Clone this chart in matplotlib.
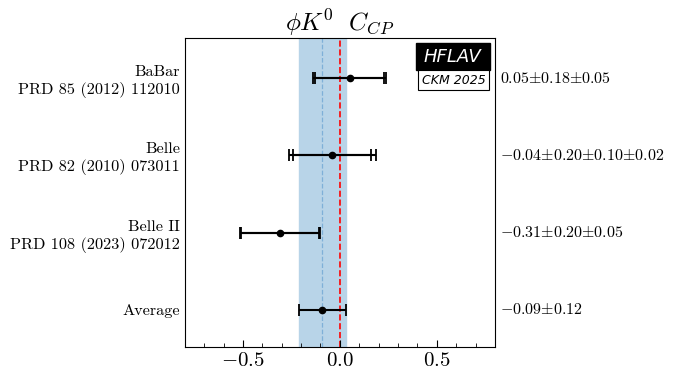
import numpy as np
import matplotlib
matplotlib.use("Agg")
import matplotlib.pyplot as plt
from matplotlib.ticker import MultipleLocator
from matplotlib.patches import Rectangle

plt.rcParams['font.family'] = 'serif'
plt.rcParams['font.serif'] = ['cmr10']
plt.rcParams['mathtext.fontset'] = 'cm'
plt.rcParams['axes.formatter.use_mathtext'] = True

# measurements, top to bottom
experiments = ["BaBar\nPRD 85 (2012) 112010",
               "Belle\nPRD 82 (2010) 073011",
               "Belle II\nPRD 108 (2023) 072012"]
values = [0.05, -0.04, -0.31]
stat_err = [0.18, 0.20, 0.20]
syst_err = [[0.05], [0.10, 0.02], [0.05]]
value_labels = [r"$0.05{\pm}0.18{\pm}0.05$",
                r"$-0.04{\pm}0.20{\pm}0.10{\pm}0.02$",
                r"$-0.31{\pm}0.20{\pm}0.05$"]

avg_value = -0.09
avg_err = 0.12
avg_label = r"$-0.09{\pm}0.12$"

fig, ax = plt.subplots(figsize=(6.77, 3.82), dpi=100)
fig.subplots_adjust(left=0.273, right=0.731, top=0.90, bottom=0.092)

n = len(experiments)
ypos = np.arange(n, 0, -1)

ax.axvspan(avg_value - avg_err, avg_value + avg_err, color="#b8d4e8", zorder=0)
ax.axvline(avg_value, color="#7fb0d8", ls="--", lw=0.9, zorder=1)
ax.axvline(0, color="red", ls="--", lw=1.2, zorder=1)

for i in range(n):
    tot = np.sqrt(stat_err[i] ** 2 + np.sum(np.square(syst_err[i])))
    ax.errorbar(values[i], ypos[i], xerr=tot, fmt="o", color="black", ms=4.5,
                lw=1.5, capsize=4.5, capthick=1.3, zorder=3)
    ax.errorbar(values[i], ypos[i], xerr=stat_err[i], fmt="none", ecolor="black",
                lw=1.5, capsize=4.5, capthick=1.3, zorder=3)
    ax.text(1.016, ypos[i], value_labels[i], transform=ax.get_yaxis_transform(),
            va="center", ha="left", fontsize=11.5)

ax.errorbar(avg_value, 0, xerr=avg_err, fmt="o", color="black", ms=4.5,
            lw=1.5, capsize=4.5, capthick=1.3, zorder=3)
ax.text(1.016, 0, avg_label, transform=ax.get_yaxis_transform(),
        va="center", ha="left", fontsize=11.5)

ax.set_yticks(list(ypos) + [0])
ax.set_yticklabels(experiments + ["Average"], fontsize=11.7, linespacing=1.25)
ax.tick_params(axis="y", length=0, pad=3.5)
ax.set_ylim(-0.48, 3.52)
ax.set_xlim(-0.8, 0.8)
ax.xaxis.set_major_locator(MultipleLocator(0.5))
ax.xaxis.set_minor_locator(MultipleLocator(0.1))
ax.tick_params(axis="x", which="major", direction="in", length=5, labelsize=15)
ax.tick_params(axis="x", which="minor", direction="in", length=3)

ax.set_title(r"$\phi K^0\ \ C_{CP}$", fontsize=18, pad=2)

# HFLAV logo
ax.add_patch(Rectangle((0.745, 0.896), 0.239, 0.088, transform=ax.transAxes,
                       fc="black", ec="black", zorder=5))
ax.add_patch(Rectangle((0.752, 0.832), 0.229, 0.064, transform=ax.transAxes,
                       fc="white", ec="black", lw=0.8, zorder=5))
ax.text(0.8645, 0.94, "HFLAV", transform=ax.transAxes, ha="center", va="center",
        fontsize=13, style="italic", color="white", family="DejaVu Sans", zorder=6)
ax.text(0.8665, 0.864, "CKM 2025", transform=ax.transAxes, ha="center", va="center",
        fontsize=9, style="italic", color="black", family="DejaVu Sans", zorder=6)

plt.savefig("out.png", dpi=100)
